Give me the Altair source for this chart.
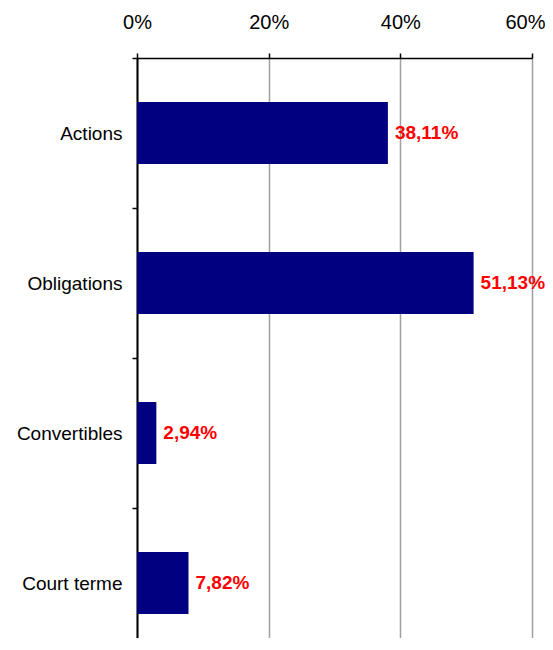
import altair as alt
import pandas as pd

categories = ["Actions", "Obligations", "Convertibles", "Court terme"]
values = [38.11, 51.13, 2.94, 7.82]
labels = [f"{v:.2f}".replace(".", ",") + "%" for v in values]
x_ticks = [0, 20, 40, 60]

df = pd.DataFrame({"cat": categories, "val": values, "lab": labels})

FONT = "Liberation Sans"

y_enc = alt.Y(
    "cat:N",
    sort=categories,
    title=None,
    scale=alt.Scale(range=[0, 600], paddingInner=0, paddingOuter=0),
    axis=alt.Axis(
        tickBand="extent",
        domainColor="#000000",
        domainWidth=2,
        tickColor="#000000",
        tickWidth=1.5,
        tickSize=5,
        labelPadding=10,
        labelFont=FONT,
        labelFontSize=19,
        labelColor="#000000",
        grid=False,
    ),
)

x_enc = alt.X(
    "val:Q",
    title=None,
    scale=alt.Scale(domain=[0, 60], nice=False),
    axis=alt.Axis(
        orient="top",
        values=x_ticks,
        labelExpr="datum.value + '%'",
        labelFlush=False,
        labelAlign=alt.ExprRef(expr="datum.value == 60 ? 'right' : 'center'"),
        labelOffset=alt.ExprRef(expr="datum.value == 60 ? 13 : 0"),
        domainColor="#000000",
        domainWidth=1.5,
        tickColor="#000000",
        tickWidth=1.5,
        tickSize=5,
        labelPadding=21,
        labelFont=FONT,
        labelFontSize=20,
        labelColor="#000000",
        grid=True,
        gridColor="#a0a0a0",
        gridWidth=1.5,
    ),
)

bars = alt.Chart(df).mark_bar(color="#000080", size=62).encode(x=x_enc, y=y_enc)

text = alt.Chart(df).mark_text(
    align="left", baseline="middle", dx=7, color="#ff0000",
    font=FONT, fontSize=19, fontWeight="bold"
).encode(x="val:Q", y=alt.Y("cat:N", sort=categories), text="lab:N")

chart = (
    alt.layer(bars, text)
    .properties(
        width=395,
        height=580,
        autosize=alt.AutoSizeParams(type="none"),
        padding={"left": 129, "top": 50, "right": 13, "bottom": 0},
    )
    .configure_view(stroke=None)
)

chart.save("out.html", embed_options={"renderer": "svg", "actions": False})
